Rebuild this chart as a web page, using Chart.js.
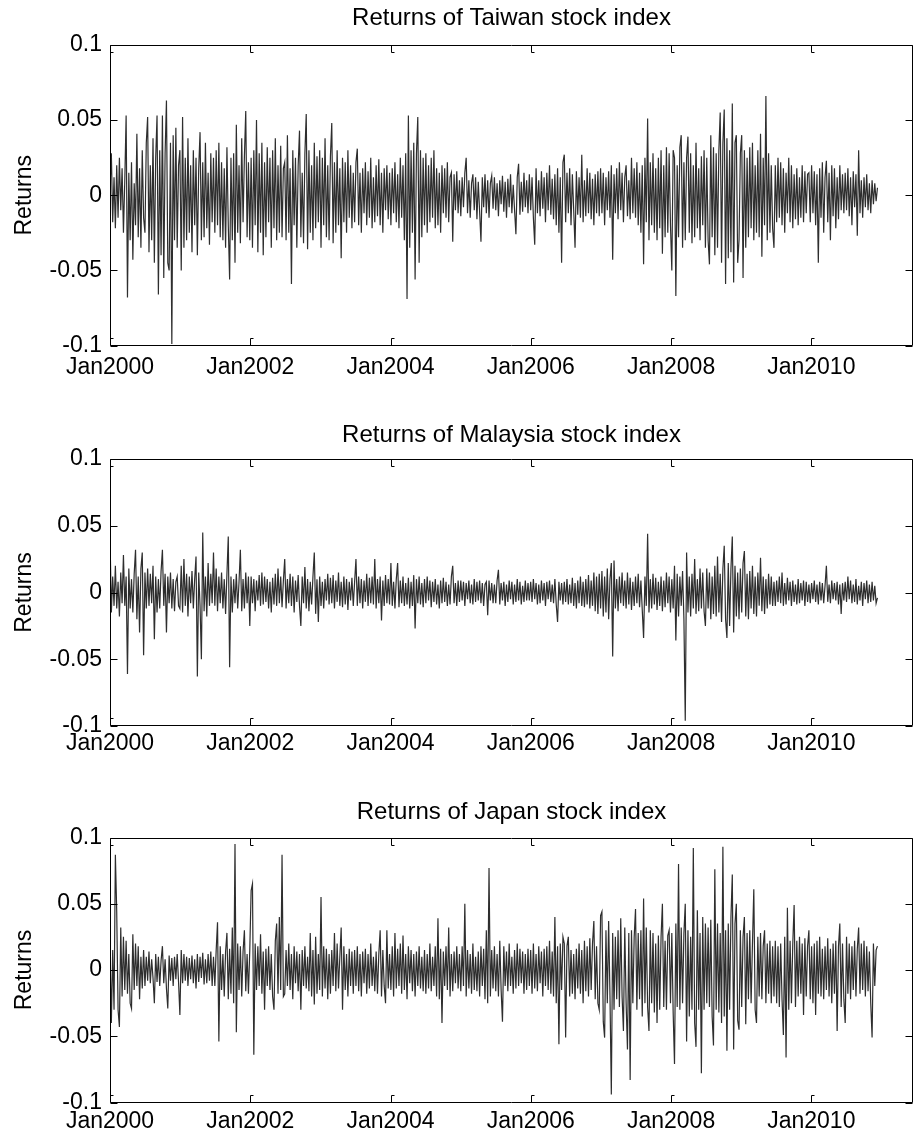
<!DOCTYPE html>
<html>
<head>
<meta charset="utf-8">
<script src="https://cdn.jsdelivr.net/npm/chart.js@4.4.0/dist/chart.umd.min.js"></script>
<style>
html,body{margin:0;padding:0;background:#fff;}
#wrap{position:relative;width:917px;height:1140px;overflow:hidden;}
canvas{position:absolute;left:0;}
</style>
</head>
<body>
<div id="wrap">
<canvas id="c1" width="917" height="385" style="top:0px"></canvas>
<canvas id="c2" width="917" height="375" style="top:385px"></canvas>
<canvas id="c3" width="917" height="380" style="top:760px"></canvas>
</div>
<script>
// ---------------- DATA ----------------
// Weekly returns, Jan 2000 onward, in thousandths (0.001 = 1)
const startYear = 2000;
const weekInYears = 7 / 365.25;
const xTickYears = [2000, 2002, 2004, 2006, 2008, 2010];
const xTickLabels = ['Jan2000', 'Jan2002', 'Jan2004', 'Jan2006', 'Jan2008', 'Jan2010'];
const yTickValues = [-0.1, -0.05, 0, 0.05, 0.1];
const yTickLabels = ['-0.1', '-0.05', '0', '0.05', '0.1'];
const panelTitles = ['Returns of Taiwan stock index', 'Returns of Malaysia stock index', 'Returns of Japan stock index'];
const yAxisTitle = 'Returns';

const taiwan = [
  5, 28, -18, 12, -22, 20, -15, 25, -10, 18, -25, 10, 53, -68, 15, -30, 22, -43, 8, -20, 41, -28, 18, -35, 30, -15,
  -25, 35, 52, -38, 20, -30, 38, -45, 25, 53, -66, 30, -40, 53, -55, 28, 63, -45, -50, 35, -99, 40, -30, 45, -35, 20,
  30, -50, 52, -35, 25, -30, 38, -25, 20, -38, 30, -20, 25, -40, 18, 42, -30, 22, -28, 35, -22, 15, -33, 28, -18, 25,
  -25, 30, -20, 35, -28, 22, -30, 18, -35, 32, -20, -56, 25, -30, 28, -45, 47, -25, 20, -32, 38, -18, 26, 56, -28, 22,
  -30, 25, -35, 30, -20, 50, -38, 28, -25, 35, -40, 22, -28, 32, -18, 25, -35, 30, -22, 38, -30, 20, -25, 33, -28, 18,
  22, -30, 40, -25, 18, -59, 30, -20, 25, -35, 20, 43, -28, 15, -32, 28, 54, -36, 30, -25, 20, -30, 35, -22, 26, -18,
  30, -35, 25, -20, 38, -28, 20, -30, 26, 48, -32, 22, -25, 30, -20, 18, -42, 25, -18, 22, -25, 30, -15, 20, -22, 15,
  -18, 22, 31, -20, 15, -25, 18, -12, 22, -20, 16, -15, 25, -22, 12, -18, 20, -14, 24, -20, 15, -25, 18, -10, 20, -16,
  15, -20, 18, -12, 22, -18, 14, -22, 25, -15, 20, -30, 28, -69, 53, -35, 30, -25, 35, -56, 28, 52, -45, 30, -28, 25,
  -20, 28, -25, 20, -18, 25, -15, 30, -22, 18, -20, 15, -25, 20, -12, 18, -15, 22, -18, 12, 15, -31, 14, -10, 16, -12,
  10, -14, 12, -8, 15, 25, -12, 10, -15, 8, 14, -10, 12, -16, 9, -11, -31, 12, -8, 14, -12, 10, -15, 8, 13, -9,
  12, -10, 8, -14, 10, -6, 13, -11, 9, -15, 11, -8, 14, -12, 7, -10, -26, 12, 21, -13, 9, -11, 15, -8, 10, -12,
  14, -10, 12, -15, -33, 18, -12, 10, -14, 16, -9, 12, -18, 15, -10, 20, -13, 11, -16, 14, -20, 18, -25, 12, -45, 22,
  27, -18, 15, -12, 18, -20, 14, -10, -35, 16, -13, 12, -15, 27, -18, 10, -14, 18, -12, 15, -16, 11, -20, 14, -12, 16,
  -14, 18, -12, 15, -20, 12, -10, 16, -15, 20, -43, 14, -12, 18, -16, 22, -10, 15, -18, 12, 20, -14, 10, -16, 25, -12,
  18, -15, 22, -20, 15, -25, 20, -46, 25, -18, 51, -30, 22, -20, 28, -25, 18, -30, 25, -22, 30, -39, 20, -28, 32, -25,
  28, -20, -50, 30, 25, -67, 20, -28, 32, 40, -35, 22, -30, 25, 39, -25, 28, -32, 20, -28, 35, -22, 18, -30, 26, -20,
  30, -35, 25, -30, -46, 40, -28, 32, -40, 28, -35, 30, 55, -45, 35, 57, -59, 38, -42, 30, -38, 61, -58, 35, 40, -45,
  -30, 28, 40, -55, 30, -35, 25, -28, 32, -22, 35, -30, 20, -25, 30, -28, 41, -41, 25, -20, 66, -30, 28, -25, 20, -22,
  -35, 20, -18, 25, -15, 22, -20, 18, -25, 15, -12, 25, -18, 20, -22, 14, -16, 18, -20, 12, -15, 20, -18, 16, -12, 14,
  15, -18, 20, -12, 16, -20, 14, -45, 18, -15, 22, -25, 12, 23, -18, 15, -30, 20, -14, 18, -22, 12, -16, 20, -10, 14,
  -12, 15, -10, 18, -14, 12, -20, 16, -8, 14, -27, 30, -12, 10, -15, 12, -8, 14, -10, 8, -12, 10, -6, 8, -4, 5
];

const malaysia = [
  43, -15, 12, -10, 20, -12, 8, -18, 15, -8, 28, -10, 12, -61, 18, -12, 10, -15, 14, 32, -20, 12, -30, 18, 30, -47,
  15, -12, 18, -10, 14, -8, 20, -35, 12, -15, 10, -12, 16, 32, -10, 14, -30, 12, -8, 15, -12, 10, -14, 8, 12, -10,
  -12, 20, -15, 25, -10, 14, -18, 12, -8, 16, -12, 10, 27, -63, 15, -10, -50, 45, -14, 12, -18, 22, -10, 14, -8, 30,
  -10, 18, -14, 12, -8, 15, -12, 10, -16, 14, 42, -56, 12, -15, 10, -8, 14, -12, 8, 32, -14, 10, -12, 15, -8, 12,
  -25, 12, -8, 10, -14, 9, -6, 13, -10, 15, -9, 12, -7, 10, -12, 8, -15, 11, -9, 14, -10, 18, -8, 12, -11, 9,
  25, -12, 10, -8, 14, -10, 12, -15, 9, -7, 13, -10, -25, 12, -8, 19, -12, 10, -14, 8, -9, 12, 30, -16, 10, -22,
  12, -10, 8, -12, 10, -6, 14, -9, 11, -8, 13, -12, 9, -7, 15, -10, 8, -11, 12, -9, 10, -13, 8, -6, 11, -10,
  8, 25, -10, 12, -8, 10, -12, 9, -7, 14, -10, 11, -8, 12, -9, 25, -12, 10, -8, 12, -21, 9, -10, 13, -8, 10,
  -9, 22, -10, 8, -12, 10, 22, -11, 9, -8, 12, -10, 7, -9, 11, -12, 8, -10, 13, -27, 10, -8, 12, -9, 7, -11,
  10, -8, 12, -6, 9, -11, 8, -7, 10, -9, 6, -12, 9, -8, 11, -7, 8, -10, 6, -9, 12, 20, -8, 7, -10, 9,
  -7, 9, -6, 8, -10, 7, -5, 9, -8, 6, -9, 10, -7, 8, -6, 9, -8, 7, -10, 6, 8, -17, 9, -6, 7, -8,
  6, -8, 9, 17, -9, 7, -6, 8, -10, 6, -7, 9, -5, 8, -9, 6, -7, 10, -6, 8, -9, 5, -7, 9, -6, 7,
  -6, 8, -7, 10, -5, 7, -9, 6, -8, 9, -6, 7, -10, 8, -5, 9, -7, 6, -8, 10, -9, -22, 8, -6, 7, -9,
  8, -7, 10, -9, 6, -8, 11, -10, 7, -12, 9, -8, 12, -10, 8, -11, 10, -9, 13, -12, 9, -10, 15, -14, 12, -16,
  14, -12, 16, -18, 12, -15, 18, -20, 10, 22, -48, 24, -12, 10, -14, 12, -8, 15, -10, 9, -12, 15, -9, 11, -13, 8,
  -10, 12, -8, 14, -11, 9, -13, -34, 12, -10, 44, -15, 10, -12, 14, -9, 11, -13, 8, -10, 12, -14, 9, -11, 15, -8,
  12, -15, 10, -12, 20, -36, 14, -18, 12, -10, 16, -20, -96, 30, -15, 12, -18, 14, -12, 25, -16, 10, -14, 18, -12, 15,
  -14, -25, 18, -12, 15, -20, 12, -16, 20, -18, 27, -15, 14, -22, 18, 35, -20, -34, 22, -25, 18, 42, -30, 20, -18, 15,
  -20, 18, -15, 22, 31, -18, 14, -20, 16, -12, 20, -16, 12, -18, 15, -10, 26, -14, 12, -16, 10, -12, 14, -9, 12, -10,
  8, -10, 9, -7, 12, -8, 15, -10, 7, -9, 11, -6, 8, -10, 9, -7, 6, -9, 10, -8, 7, -6, 9, -10, 8, -7,
  6, -8, 7, -5, 9, -7, 6, -9, 8, -6, 7, -8, 5, 20, -7, 6, -8, 9, -5, 7, -6, 8, -9, 6, -16, 7,
  -6, 8, -7, 12, -5, 9, -8, 6, -7, 10, -9, 5, -6, 8, -10, 7, -5, 9, -8, 6, -7, 8, -6, 5, -8, -4
];

const japan = [
  18, -40, 15, -30, 87, 44, -30, -43, 32, -20, 25, -15, 22, -18, 12, -25, -29, 27, -15, 20, -12, 18, -22, 10, -14, 15,
  -12, 10, -8, 14, -10, 8, -6, -25, 12, -9, 10, -12, 7, 18, -10, 8, -14, -29, 11, -8, 9, -12, 10, -7, 12, -9,
  -34, 15, -10, 12, -8, 10, -12, 9, -7, 11, -10, 8, -14, 12, -9, 10, -6, 13, -11, 8, -10, 12, -8, 14, -12, 10,
  -12, 15, 36, -54, 18, -15, 12, -20, 14, 28, -22, 16, -18, 32, -25, 95, -47, 20, -15, 18, -20, 14, 30, -16, 12, -18,
  15, 60, 65, -64, 20, -15, 18, -12, 27, -18, 14, -30, 16, -12, 18, -15, 12, -20, -30, 22, 35, -18, 40, -15, 87, -20,
  -18, 15, -12, 20, -15, 12, -22, 18, -10, 14, -16, 12, -30, 15, -12, 18, -14, 10, -16, 28, -20, 15, -26, 25, -18, 12,
  -15, 55, -20, 18, -14, 16, -22, 12, -18, 15, -12, 28, -16, 20, -14, 10, 32, -30, 18, -15, 12, -20, 16, -12, 14, -18,
  15, -12, 18, -16, 12, -20, 14, -10, 16, -18, 12, -14, 20, -12, 10, -16, 14, -18, 12, 30, -20, 15, -12, -25, 30, -14,
  12, -15, 18, -20, 28, -14, 16, -12, 20, -18, 26, -15, 12, -22, 18, -10, 15, -16, 12, -20, 14, -12, 18, -14, 10, -16,
  15, -18, 12, -14, 20, -16, 10, -12, 18, -20, 39, -22, 16, -40, 14, -12, 18, -15, 32, -20, 12, -16, 14, -10, 18, -14,
  12, -16, 18, -12, 50, -20, 15, -14, 12, -18, 20, -15, 10, -16, 14, -20, 18, -12, 16, -22, 30, -25, 77, -20, 15, -14,
  18, -16, 12, -20, 22, -15, -39, 18, -12, 14, -16, 20, -12, 10, -18, 15, -14, 20, -12, 16, -10, 14, -18, 12, -15, 16,
  -12, 15, -18, 20, -14, 12, -16, 18, -10, 14, -20, 16, -12, 18, -15, 22, -18, 14, -20, 40, -25, 18, -56, 20, -15, 25,
  20, -51, 18, 25, -20, 15, -18, 12, -22, 16, -14, 20, -18, 15, -25, 22, -16, 18, -20, 24, -15, 20, 37, -22, 18, -25,
  -30, 41, 44, -39, -51, 30, -25, 37, -20, -94, 28, -30, 25, -22, 30, -28, 39, -20, -46, 32, -25, -60, 28, -83, 30, -25,
  25, 46, -30, 28, -22, 30, -35, 54, -25, 32, -28, -46, 30, -25, 28, -32, 20, -40, 26, -30, 25, 50, -28, 22, -30, 26,
  30, -25, 28, -32, -71, 35, -28, 80, -30, 32, -25, 28, 50, -54, 30, -35, 25, -30, 92, -40, -58, 45, -30, 28, -78, 40,
  -30, 35, -25, 32, -28, 38, -35, -57, 76, -30, 35, -32, 28, -40, 93, -35, 30, -61, 35, -30, 40, 72, -60, 35, 50, -38,
  -45, 30, -28, 25, 40, -41, 28, -22, 30, -25, 20, 61, -30, -40, 25, -20, 28, -22, 18, 30, -25, 20, -18, 22, -25, 18,
  -20, 22, -25, 18, -28, 20, -22, -49, 25, -66, 47, -30, 22, -25, 20, 49, -28, 22, -20, 25, -18, 20, -34, 24, -20, 18,
  30, -22, 18, -25, 20, -34, 22, -18, 25, -20, 16, -22, 18, -15, 24, -20, 16, -25, 20, -18, 22, -46, 18, 35, -28, 20,
  -22, -40, 25, -18, 20, -22, 18, -15, 22, -20, 16, 32, -18, 20, -15, 22, -20, 18, -16, 14, -25, -51, 20, -12, 15, 18
];

// ---------------- STYLE / LAYOUT ----------------
Chart.defaults.font.family = '"Liberation Sans", Arial, Helvetica, sans-serif';
Chart.defaults.font.size = 23;
Chart.defaults.color = '#000';

const FONT = 23;
const TITLE_FONT = 24;
const X_MAX = 2011.45;

const frameTicks = {
  id: 'frameTicks',
  afterDraw(chart) {
    const {ctx, chartArea: a, scales: {x, y}} = chart;
    const L = Math.round(a.left) + 0.5, R = Math.round(a.right) - 0.5;
    const T = Math.round(a.top) + 0.5, B = Math.round(a.bottom) - 0.5;
    ctx.save();
    ctx.strokeStyle = '#000';
    ctx.lineWidth = 1;
    ctx.beginPath();
    ctx.rect(L, T, R - L, B - T);
    const len = 7;
    x.ticks.forEach(t => {
      const px = Math.round(x.getPixelForValue(t.value)) + 0.5;
      ctx.moveTo(px, T); ctx.lineTo(px, T + len); ctx.lineTo(px + 3, T + len);
      ctx.moveTo(px, B); ctx.lineTo(px, B - len); ctx.lineTo(px + 3, B - len);
    });
    y.ticks.forEach(t => {
      const py = Math.round(y.getPixelForValue(t.value)) + 0.5;
      ctx.moveTo(L, py); ctx.lineTo(L + len, py);
      ctx.moveTo(R, py); ctx.lineTo(R - len, py);
    });
    ctx.stroke();
    ctx.restore();
  }
};

function makePanel(id, title, series, lay) {
  const points = series.map((v, i) => ({x: startYear + i * weekInYears, y: v / 1000}));
  return new Chart(document.getElementById(id), {
    type: 'line',
    data: {
      datasets: [{
        data: points,
        borderColor: '#2e2e2e',
        borderWidth: 1.2,
        pointRadius: 0,
        tension: 0,
        fill: false
      }]
    },
    options: {
      responsive: false,
      animation: false,
      events: [],
      layout: {padding: {left: 0, right: 4, top: 0, bottom: 0}},
      plugins: {
        legend: {display: false},
        tooltip: {enabled: false},
        title: {
          display: true,
          fullSize: false,
          text: title,
          color: '#000',
          font: {size: TITLE_FONT, weight: 'normal'},
          padding: {top: lay.titleTop, bottom: lay.titleBottom}
        }
      },
      scales: {
        x: {
          type: 'linear',
          min: startYear,
          max: X_MAX,
          grid: {display: false, drawTicks: false},
          border: {display: false},
          afterBuildTicks: s => { s.ticks = xTickYears.map(v => ({value: v})); },
          afterFit: s => { s.height = lay.xHeight; },
          ticks: {
            padding: lay.xPad,
            maxRotation: 0,
            autoSkip: false,
            font: {size: FONT},
            callback: (v) => xTickLabels[xTickYears.indexOf(v)]
          }
        },
        y: {
          min: -0.1,
          max: 0.1,
          grid: {display: false, drawTicks: false},
          border: {display: false},
          afterBuildTicks: s => { s.ticks = yTickValues.map(v => ({value: v})); },
          afterFit: s => { s.width = 110; },
          ticks: {
            padding: 8,
            font: {size: FONT},
            callback: (v) => yTickLabels[yTickValues.findIndex(t => Math.abs(t - v) < 1e-9)]
          },
          title: {
            display: true,
            text: yAxisTitle,
            color: '#000',
            font: {size: FONT},
            padding: {top: 11, bottom: 0}
          }
        }
      }
    },
    plugins: [frameTicks]
  });
}

makePanel('c1', panelTitles[0], taiwan,   {titleTop: 4, titleBottom: 12.2, xHeight: 39.5, xPad: 8});
makePanel('c2', panelTitles[1], malaysia, {titleTop: 36, titleBottom: 9.2, xHeight: 34, xPad: 4});
makePanel('c3', panelTitles[2], japan,    {titleTop: 38.2, titleBottom: 10.5, xHeight: 37.5, xPad: 5});
</script>
</body>
</html>
